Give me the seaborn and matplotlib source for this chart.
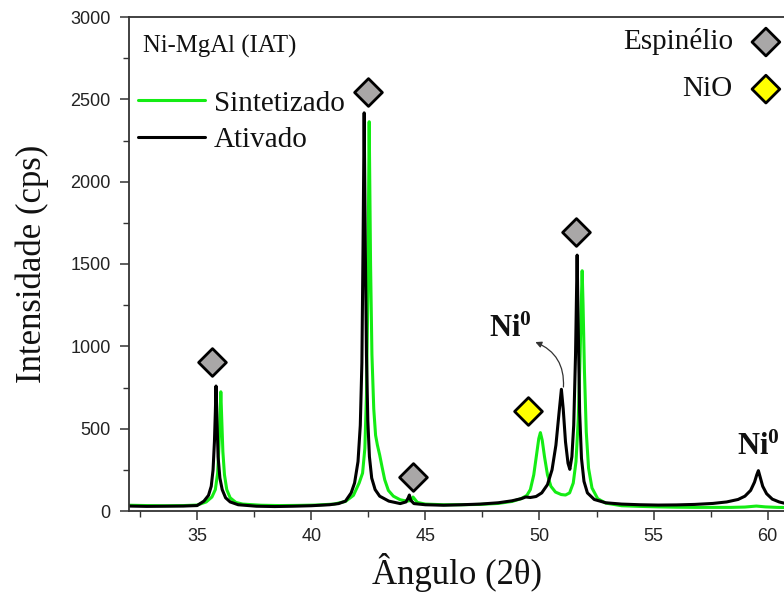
import matplotlib
matplotlib.use("Agg")
import matplotlib.pyplot as plt
import seaborn as sns
import pandas as pd

# ---------------- data ----------------
ativ_x = [32.0, 32.8, 33.6, 34.4, 35.0, 35.3, 35.5, 35.62, 35.7, 35.76, 35.8, 35.83, 35.87, 35.92, 36.0,
          36.1, 36.25, 36.45, 36.8, 37.6, 38.4, 39.2, 40.0, 40.8, 41.2, 41.5, 41.75, 41.9, 42.05, 42.15,
          42.22, 42.27, 42.32, 42.37, 42.42, 42.48, 42.55, 42.65, 42.8, 43.0, 43.4, 43.9, 44.15, 44.25,
          44.3, 44.36, 44.5, 45.0, 45.8, 46.6, 47.4, 48.2, 48.8, 49.2, 49.4, 49.6, 49.85, 50.1, 50.35,
          50.55, 50.72, 50.86, 50.96, 51.04, 51.14, 51.25, 51.33, 51.42, 51.5, 51.58, 51.65, 51.7, 51.76,
          51.84, 51.95, 52.1, 52.4, 52.9, 53.6, 54.4, 55.2, 56.0, 56.8, 57.6, 58.2, 58.7, 59.0, 59.25,
          59.42, 59.52, 59.59, 59.66, 59.78, 59.95, 60.2, 60.5, 60.8]
ativ_y = [30, 28, 29, 30, 33, 60, 95, 150, 250, 420, 600, 759, 560, 330, 200,
          130, 80, 55, 38, 29, 27, 29, 32, 38, 45, 60, 110, 170, 300, 520,
          900, 1600, 2418, 1600, 950, 550, 330, 200, 130, 90, 60, 45, 55, 80,
          97, 65, 45, 38, 35, 38, 42, 50, 62, 75, 85, 82, 88, 110, 160,
          250, 400, 600, 739, 620, 420, 290, 253, 330, 520, 950, 1554, 1100, 600,
          320, 180, 110, 70, 50, 42, 38, 36, 37, 40, 46, 55, 70, 90, 125,
          175, 220, 245, 210, 150, 105, 72, 55, 45]

sint_x = [32.0, 32.8, 33.6, 34.4, 35.0, 35.4, 35.65, 35.8, 35.9, 35.96, 36.0, 36.04, 36.08, 36.13,
          36.2, 36.3, 36.45, 36.7, 37.0, 37.8, 38.6, 39.4, 40.2, 41.0, 41.5, 41.85, 42.1, 42.25, 42.35,
          42.42, 42.48, 42.54, 42.6, 42.66, 42.74, 42.82, 42.9, 43.0, 43.1, 43.22, 43.38, 43.6,
          43.9, 44.2, 44.38, 44.46, 44.52, 44.65, 45.0, 45.8, 46.6, 47.4, 48.2, 48.8, 49.2, 49.45, 49.6,
          49.75, 49.88, 49.97, 50.04, 50.12, 50.22, 50.35, 50.5, 50.7, 50.95, 51.14, 51.32, 51.48, 51.6,
          51.7, 51.78, 51.84, 51.87, 51.91, 51.97, 52.05, 52.15, 52.3, 52.55, 52.9, 53.6, 54.4, 55.2,
          56.0, 56.8, 57.6, 58.4, 59.0, 59.5, 59.9, 60.4, 60.8]
sint_y = [35, 33, 32, 33, 36, 55, 85, 130, 230, 400, 560, 724, 560, 360,
          220, 130, 80, 52, 42, 35, 33, 34, 36, 42, 58, 95, 170, 230, 380,
          700, 1300, 2364, 1500, 950, 620, 460, 400, 340, 270, 190, 125, 90,
          68, 60, 64, 85, 75, 52, 42, 38, 38, 40, 46, 58, 75, 95, 130,
          220, 350, 440, 476, 430, 330, 220, 150, 115, 100, 97, 110, 170, 300,
          560, 950, 1300, 1459, 1250, 850, 480, 260, 140, 75, 48, 32, 28, 25,
          23, 22, 22, 22, 24, 30, 25, 22, 21]

series_names = ["Sintetizado", "Ativado"]

spinel_x = [35.64, 42.50, 44.46, 51.62]
spinel_y = [905, 2544, 208, 1694]
nio_x = [49.49]
nio_y = [609]

key_labels = ["Espinélio", "NiO"]
key_y = [2848, 2562]

x_ticks = [35, 40, 45, 50, 55, 60]
y_ticks = [0, 500, 1000, 1500, 2000, 2500, 3000]

# ---------------- style ----------------
sns.set_style("ticks")
plt.rcParams["font.family"] = ["Liberation Sans", "DejaVu Sans"]
plt.rcParams["mathtext.fontset"] = "custom"
plt.rcParams["mathtext.rm"] = "Liberation Serif"
plt.rcParams["mathtext.bf"] = "Liberation Serif:bold"
SERIF = ["Liberation Serif", "DejaVu Serif"]

GREEN = "#14ec14"
GRAY = "#a9a7a7"
YELLOW = "#ffff00"

fig = plt.figure(figsize=(7.84, 6.01), dpi=100)
ax = fig.add_axes([128.6 / 784, 90 / 601, (786 - 128.6) / 784, 494 / 601])

df = pd.concat([
    pd.DataFrame({"angulo": sint_x, "intensidade": sint_y, "amostra": series_names[0]}),
    pd.DataFrame({"angulo": ativ_x, "intensidade": ativ_y, "amostra": series_names[1]}),
])
sns.lineplot(data=df, x="angulo", y="intensidade", hue="amostra", hue_order=series_names,
             palette=[GREEN, "black"], estimator=None, sort=False, ax=ax, linewidth=2.2)

# phase markers
sns.scatterplot(x=spinel_x, y=spinel_y, marker="D", s=200, color=GRAY, edgecolor="black",
                linewidth=2.0, ax=ax, zorder=5, legend=False)
sns.scatterplot(x=nio_x, y=nio_y, marker="D", s=200, color=YELLOW, edgecolor="black",
                linewidth=2.0, ax=ax, zorder=5, legend=False)
# key markers (top right)
sns.scatterplot(x=[59.92, 59.92], y=key_y, marker="D", s=200, color=GRAY,
                edgecolor="black", linewidth=2.0, ax=ax, zorder=5, legend=False,
                clip_on=False)
ax.collections[-1].set_facecolors([GRAY, YELLOW])
for lab, yy in zip(key_labels, key_y):
    ax.text(58.47, yy - 43, lab, ha="right", va="baseline", fontsize=21, family=SERIF, color="#111111")

ax.text(32.63, 2781, "Ni-MgAl (IAT)", ha="left", va="baseline", fontsize=17.8, family=SERIF, color="#111111")

# Ni0 labels
ax.text(48.71, 1056, r"$\mathbf{Ni^{0}}$", ha="center", va="baseline", fontsize=22, color="#111111")
ax.text(59.57, 340, r"$\mathbf{Ni^{0}}$", ha="center", va="baseline", fontsize=22, color="#111111")
ax.annotate("", xy=(49.82, 1026), xytext=(51.05, 753),
            arrowprops=dict(arrowstyle="-|>", color="#333333", lw=0.9, mutation_scale=9,
                            connectionstyle="arc3,rad=0.35", shrinkA=0, shrinkB=0))

# axes
ax.set_xlim(32, 60.8)
ax.set_ylim(0, 3000)
ax.set_xticks(x_ticks)
ax.set_yticks(y_ticks)
ax.set_xticks([32.5 + 5 * i for i in range(6)], minor=True)
ax.set_yticks([250 + 500 * i for i in range(6)], minor=True)
ax.tick_params(axis="both", which="major", direction="out", length=6.5, width=1.1,
               labelsize=13, colors="#333333", labelcolor="#222222", pad=6.5)
ax.tick_params(axis="both", which="minor", direction="out", length=4, width=1.0, colors="#333333")
ax.tick_params(axis="x", which="major", pad=5.5)
for side in ["left", "bottom", "top"]:
    ax.spines[side].set_visible(True)
    ax.spines[side].set_linewidth(1.3)
    ax.spines[side].set_color("#333333")
ax.spines["right"].set_visible(False)

ax.set_xlabel("Ângulo (2θ)", fontsize=25, family=SERIF, color="#111111", labelpad=6)
ax.set_ylabel("Intensidade (cps)", fontsize=25, family=SERIF, color="#111111", labelpad=15)

leg = ax.legend(loc="upper left", bbox_to_anchor=(0.0143, 0.852), frameon=False,
                prop={"family": SERIF, "size": 21}, handlelength=2.3, handletextpad=0.3,
                labelspacing=0.35, borderpad=0, borderaxespad=0)
for line in leg.get_lines():
    line.set_linewidth(2.2)
for t in leg.get_texts():
    t.set_color("#111111")

fig.savefig("out.png", dpi=100)
